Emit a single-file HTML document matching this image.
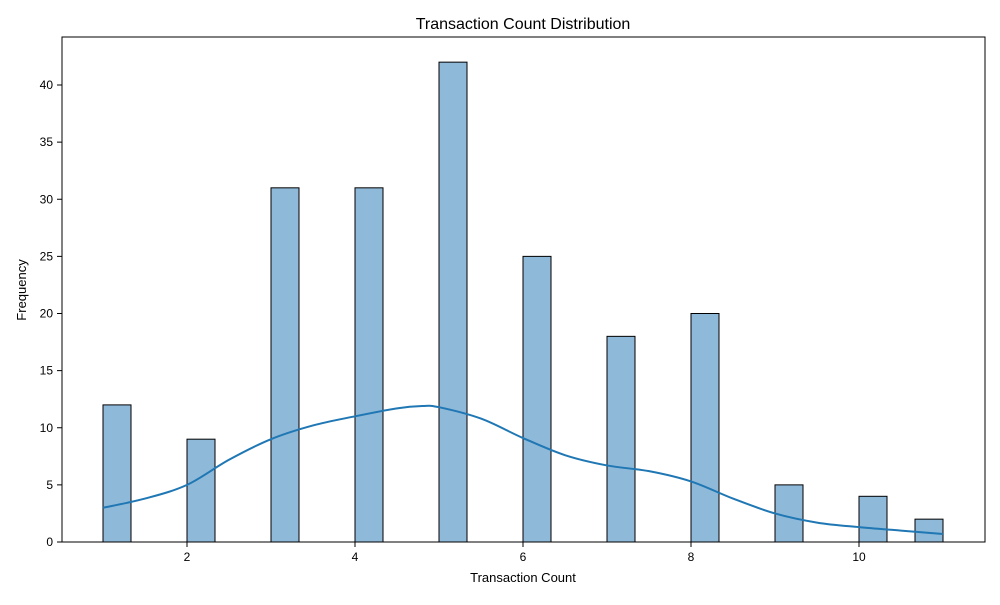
<!DOCTYPE html>
<html><head><meta charset="utf-8"><style>
body{margin:0;background:#fff;font-family:"Liberation Sans",sans-serif}
</style></head><body>
<svg id="chart" width="1000" height="600" xmlns="http://www.w3.org/2000/svg" font-family="Liberation Sans, sans-serif">
<rect width="1000" height="600" fill="#fff"/>
<text x="523" y="29" text-anchor="middle" font-size="16">Transaction Count Distribution</text>
<text x="523" y="582" text-anchor="middle" font-size="13">Transaction Count</text>
<text x="26" y="290" text-anchor="middle" font-size="13" transform="rotate(-90 26 290)">Frequency</text>
<g id="bars"></g><g id="ticks"></g>
<path id="kde" fill="none" stroke="#1f77b4" stroke-width="2"/>
<rect x="62" y="37" width="923" height="505" fill="none" stroke="#000" stroke-width="1"/>
</svg>
<script>
const binStarts=[1,2,3,4,5,6,7,8,9,10,10.6667];
const counts=[12,9,31,31,42,25,18,20,5,4,2];
const kdeX=[1,1.5,2,2.5,3,3.5,4,4.5,4.8,5,5.5,6,6.5,7,7.5,8,8.5,9,9.5,10,10.5,11];
const kdeY=[3,3.8,5,7.2,9,10.2,11,11.7,11.9,11.8,10.8,9.1,7.6,6.7,6.2,5.3,3.8,2.5,1.7,1.3,1.0,0.7];
const xTicks=[2,4,6,8,10];
const yTicks=[0,5,10,15,20,25,30,35,40];
const binW=1/3;
const xs=v=>103+(v-1)*84, ys=v=>542-v*11.425;
const NS="http://www.w3.org/2000/svg";
const bars=document.getElementById('bars'),tk=document.getElementById('ticks');
binStarts.forEach((b,i)=>{const r=document.createElementNS(NS,'rect');
r.setAttribute('x',xs(b));r.setAttribute('y',ys(counts[i]));r.setAttribute('width',xs(b+binW)-xs(b));r.setAttribute('height',ys(0)-ys(counts[i]));
r.setAttribute('fill','#8fb9d9');r.setAttribute('stroke','#000');r.setAttribute('stroke-width','1');


bars.appendChild(r);});
xTicks.forEach(t=>{const l=document.createElementNS(NS,'line');l.setAttribute('x1',xs(t));l.setAttribute('x2',xs(t));l.setAttribute('y1',542);l.setAttribute('y2',547);l.setAttribute('stroke','#000');


tk.appendChild(l);
const tx=document.createElementNS(NS,'text');tx.setAttribute('x',xs(t));tx.setAttribute('y',561);tx.setAttribute('text-anchor','middle');tx.setAttribute('font-size','12');tx.textContent=t;


tk.appendChild(tx);});
yTicks.forEach(t=>{const l=document.createElementNS(NS,'line');l.setAttribute('x1',57);l.setAttribute('x2',62);l.setAttribute('y1',ys(t));l.setAttribute('y2',ys(t));l.setAttribute('stroke','#000');


tk.appendChild(l);
const tx=document.createElementNS(NS,'text');tx.setAttribute('x',53);tx.setAttribute('y',ys(t)+4);tx.setAttribute('text-anchor','end');tx.setAttribute('font-size','12');tx.textContent=t;


tk.appendChild(tx);});
// smooth curve (Catmull-Rom)
const P=kdeX.map((x,i)=>[xs(x),ys(kdeY[i])]);
let d='M'+P[0][0]+','+P[0][1];
for(let i=0;i<P.length-1;i++){const p0=P[i-1]||P[i],p1=P[i],p2=P[i+1],p3=P[i+2]||P[i+1];
d+=' C'+(p1[0]+(p2[0]-p0[0])/6)+','+(p1[1]+(p2[1]-p0[1])/6)+' '+(p2[0]-(p3[0]-p1[0])/6)+','+(p2[1]-(p3[1]-p1[1])/6)+' '+p2[0]+','+p2[1];}
document.getElementById('kde').setAttribute('d',d);
</script>
</body></html>
